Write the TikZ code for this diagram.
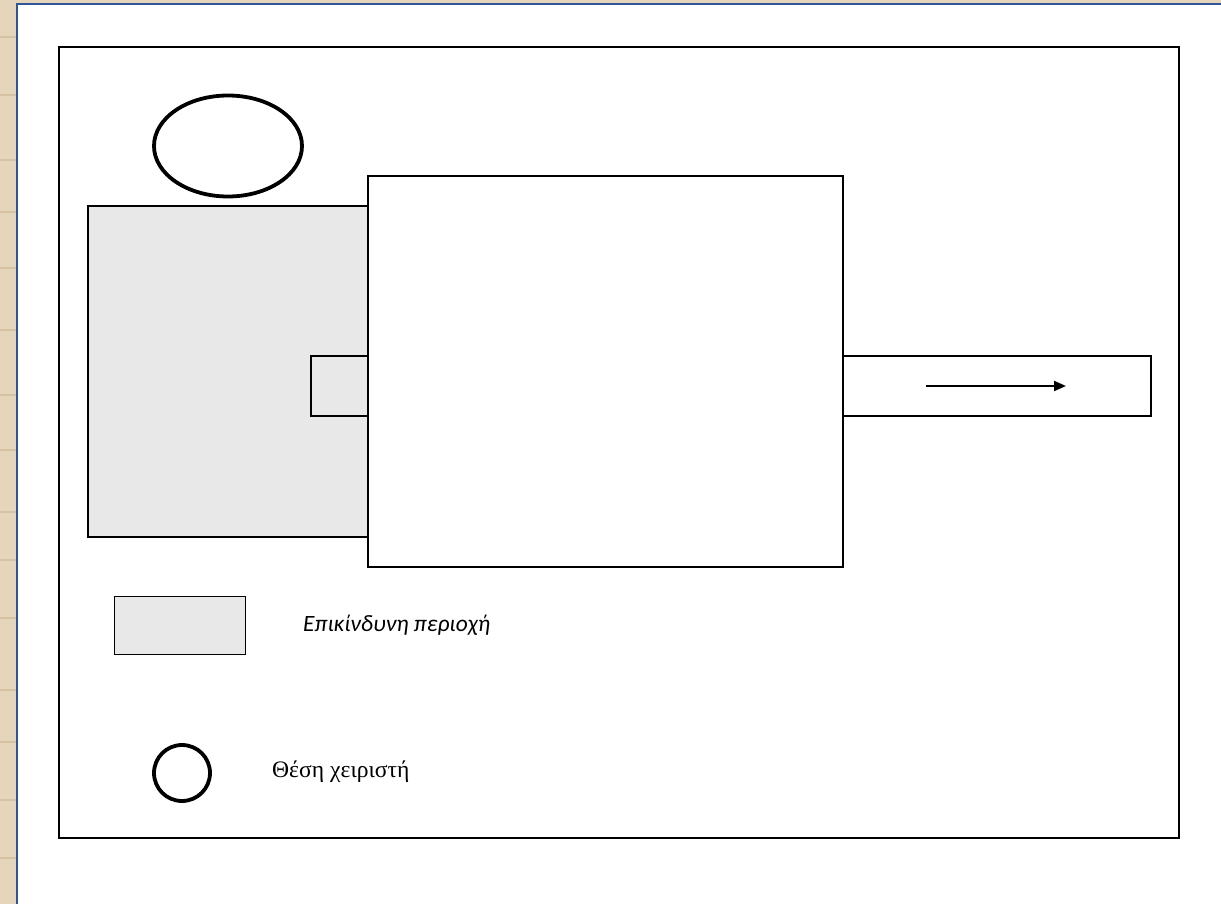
\documentclass[tikz,border=0pt]{standalone}
\usepackage{fontspec}
\setmainfont{Liberation Serif}
\newfontfamily\legendfont{Carlito}
\usetikzlibrary{arrows.meta, shapes.geometric}
\definecolor{wood}{RGB}{229,213,186}
\definecolor{woodline}{RGB}{214,194,162}
\definecolor{frameblue}{RGB}{47,85,151}
\definecolor{danger}{RGB}{232,232,232}
\tikzset{
  box/.style={draw, line width=1.8pt, inner sep=0pt, anchor=north west},
  operator/.style={draw, ellipse, line width=3.8pt, inner sep=0pt},
}
\begin{document}
\begin{tikzpicture}[x=1pt, y=-1pt]
          \useasboundingbox (0,0) rectangle (1221,904);
          % page edge
          \fill[wood] (0,0) rectangle (17,904);
          \fill[wood] (0,0) rectangle (1221,3);
          \foreach \y in {37,95,160,212,268,330,395,450,512,560,618,690,742,800,858}
            \draw[woodline, line width=2pt] (0,\y) -- (16,\y);
          \fill[white] (18,4) rectangle (1221,904);
          \draw[frameblue, line width=2.2pt] (17,904) -- (17,4) -- (1221,4);

          \node[box, line width=2.2pt, minimum width=1120pt, minimum height=791pt] (plan) at (58,46) {};
          \node[box, fill=danger, minimum width=280pt, minimum height=331pt] (zone) at (87,205) {};
          \node[box, minimum width=57pt, minimum height=60pt] (feed) at (310,355) {};
          \node[box, fill=white, minimum width=475pt, minimum height=391pt] (machine) at (367,175) {};
          \node[box, minimum width=308pt, minimum height=60pt] (conveyor) at (842,355) {};
          \node[operator, minimum width=148pt, minimum height=101pt] (op) at (228,146) {};

          \coordinate (a) at (926,386);
          \coordinate (b) at (1066,386);
          \draw[-{Triangle[length=12pt,width=10pt]}, line width=2pt] (a) -- (b);

          % legend
          \node[box, fill=danger, line width=1.3pt, minimum width=131pt, minimum height=58pt] (key1) at (114,596) {};
          \node[anchor=west, inner sep=0pt, font=\legendfont\itshape\fontsize{23.4}{28}\selectfont] (text1) at (303,625) {Επικίνδυνη περιοχή};
          \node[operator, minimum size=56pt] (key2) at (182,773) {};
          \node[anchor=west, inner sep=0pt, font=\fontsize{23.6}{28}\selectfont] (text2) at (272,772) {Θέση χειριστή};
    \end{tikzpicture}
\end{document}
